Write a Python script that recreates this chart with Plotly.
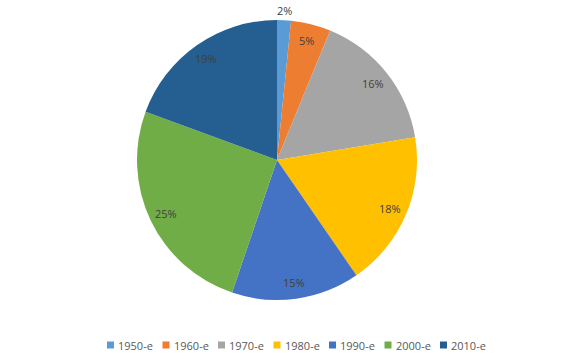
import math
import plotly.graph_objects as go

categories = ["1950-e", "1960-e", "1970-e", "1980-e", "1990-e", "2000-e", "2010-e"]
values = [1.6, 4.6, 16.2, 18.0, 14.8, 25.4, 19.4]
labels = ["2%", "5%", "16%", "18%", "15%", "25%", "19%"]
colors = ["#5B9BD5", "#ED7D31", "#A5A5A5", "#FFC000", "#4472C4", "#70AD47", "#255E91"]

W, H = 586, 363
cx, cy, R = 277, 160, 140
FONT = "Open Sans, Liberation Sans, sans-serif"

fig = go.Figure()
fig.add_trace(go.Pie(
    labels=categories, values=values, sort=False, direction="clockwise", rotation=0,
    marker=dict(colors=colors, line=dict(color="white", width=0)),
    textinfo="none", hoverinfo="label+percent", showlegend=False,
    domain=dict(x=[(cx - R) / W, (cx + R) / W], y=[1 - (cy + R) / H, 1 - (cy - R) / H]),
))

total = sum(values)
cum = 0
for v, t in zip(values, labels):
    mid = (cum + v / 2) / total * 2 * math.pi
    cum += v
    r = R * (1.07 if v / total < 0.03 else 0.88)
    x = cx + r * math.sin(mid)
    y = cy - r * math.cos(mid)
    fig.add_annotation(x=x / W, y=1 - y / H, xref="paper", yref="paper", text=t,
                       showarrow=False, font=dict(family=FONT, size=11, color="#404040"),
                       xanchor="center", yanchor="middle")

# legend (custom, compact like the original)
lx0, ly, step, sq = 107, 345, 55.5, 7
for i, (c, col) in enumerate(zip(categories, colors)):
    x0 = lx0 + i * step
    fig.add_shape(type="rect", xref="paper", yref="paper",
                  x0=x0 / W, x1=(x0 + sq) / W, y0=1 - (ly + sq / 2) / H, y1=1 - (ly - sq / 2) / H,
                  fillcolor=col, line=dict(width=0))
    fig.add_annotation(x=(x0 + sq + 2) / W, y=1 - ly / H, xref="paper", yref="paper", text=c,
                       showarrow=False, xanchor="left", yanchor="middle",
                       font=dict(family=FONT, size=11, color="#595959"))

fig.update_layout(
    width=W, height=H, margin=dict(l=0, r=0, t=0, b=0),
    paper_bgcolor="white", plot_bgcolor="white",
    showlegend=False,
)
fig.write_html("out.html")
